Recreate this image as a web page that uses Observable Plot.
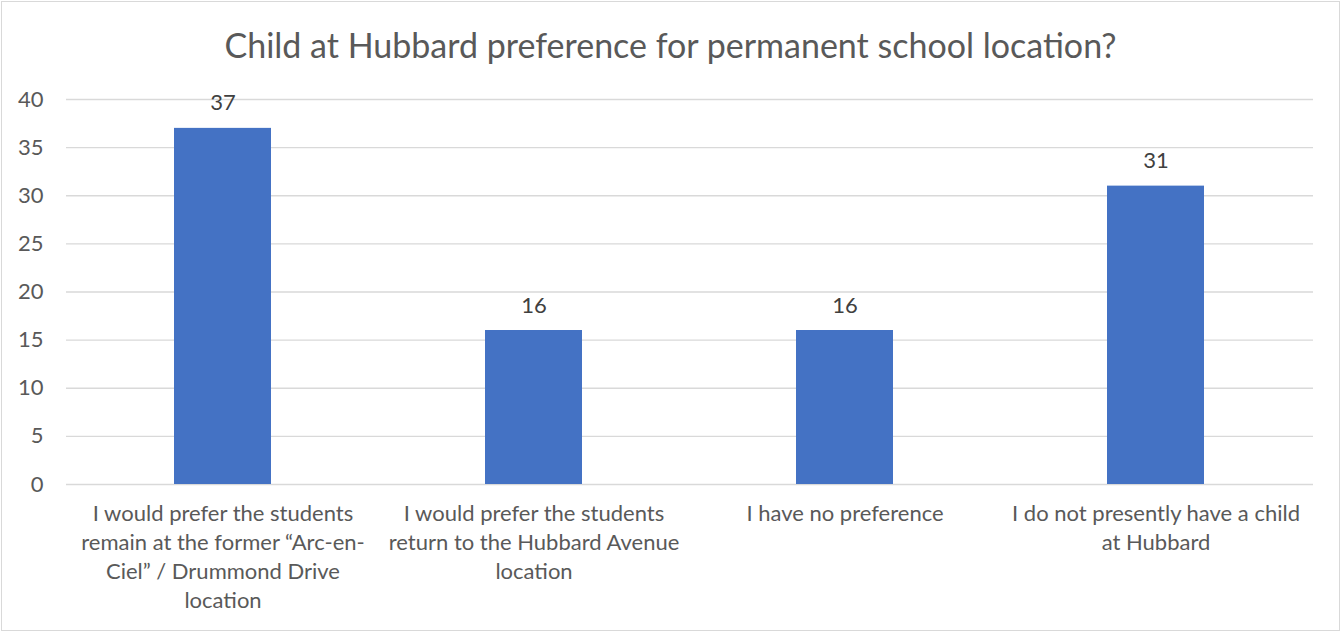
<!DOCTYPE html>
<html>
<head>
<meta charset="utf-8">
<script src="https://cdn.jsdelivr.net/npm/d3@7"></script>
<script src="https://cdn.jsdelivr.net/npm/@observablehq/plot@0.6"></script>
<style>
  html, body { margin: 0; padding: 0; background: #fff; }
  #chart { position: relative; width: 1341px; height: 632px; overflow: hidden; font-family: "Lato", sans-serif; }
  #chart::after { content: ""; position: absolute; left: 1px; top: 1px; right: 1px; bottom: 1px; border: 1px solid #d9d9d9; pointer-events: none; }
  #title { height: 80px; line-height: 90px; text-align: center; font-size: 34px; color: #595959; white-space: nowrap; }
  svg { display: block; }
</style>
</head>
<body>
<div id="chart"><div id="title">Child at Hubbard preference for permanent school location?</div></div>
<script>
const categories = [
  "I would prefer the students remain at the former “Arc-en-Ciel” / Drummond Drive location",
  "I would prefer the students return to the Hubbard Avenue location",
  "I have no preference",
  "I do not presently have a child at Hubbard"
];
const values = [37, 16, 16, 31];
const categoryLines = [
  ["I would prefer the students", "remain at the former “Arc-en-", "Ciel” / Drummond Drive", "location"],
  ["I would prefer the students", "return to the Hubbard Avenue", "location"],
  ["I have no preference"],
  ["I do not presently have a child", "at Hubbard"]
];
const yTicks = [0, 5, 10, 15, 20, 25, 30, 35, 40];

const data = categories.map((c, i) => ({category: c, value: values[i]}));
const labelOf = new Map(categories.map((c, i) => [c, categoryLines[i].join("\n")]));

const plot = Plot.plot({
  width: 1341,
  height: 552,
  marginLeft: 66,
  marginRight: 28,
  marginTop: 19,
  marginBottom: 148,
  style: {fontFamily: "Lato, sans-serif", color: "#595959", background: "transparent"},
  x: {domain: categories, paddingInner: 0.687, paddingOuter: 0.3435, label: null},
  y: {domain: [0, 40], label: null},
  marks: [
    Plot.gridY(yTicks, {stroke: "#d9d9d9", strokeOpacity: 1, strokeWidth: 1.3}),
    Plot.barY(data, {x: "category", y: "value", fill: "#4472C4"}),
    Plot.text(data, {x: "category", y: "value", text: d => String(d.value), dy: -25, fontSize: 22, fill: "#404040"}),
    Plot.axisY(yTicks, {tickSize: 0, tickPadding: 23, fontSize: 22, fill: "#595959", label: null}),
    Plot.axisX({tickSize: 0, tickPadding: 16, fontSize: 22, lineHeight: 1.32, fill: "#595959", tickFormat: d => labelOf.get(d), label: null})
  ]
});
document.getElementById("chart").appendChild(plot);
</script>
</body>
</html>
